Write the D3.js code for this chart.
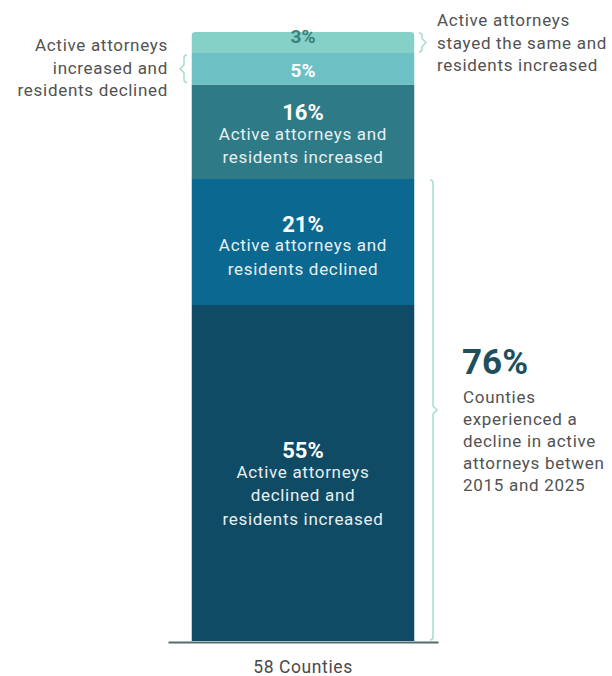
<!DOCTYPE html>
<html>
<head>
<meta charset="utf-8">
<script src="https://cdn.jsdelivr.net/npm/d3@7"></script>
<style>
  html, body { margin: 0; padding: 0; background: #ffffff; }
  svg { display: block; font-family: Roboto, "Open Sans", sans-serif; }
</style>
</head>
<body>
<svg id="chart" width="612" height="676"></svg>
<script>
// Counties by change in active attorneys and residents, 2015–2025 (58 counties total)
const barCategory = ["58 Counties"];
const segmentKeys = ["attDownResUp", "bothDown", "bothUp", "attUpResDown", "attSameResUp"];
const countyCounts = [32, 12, 9, 3, 2];
const segmentLines = [
  ["Active attorneys", "declined and", "residents increased"],
  ["Active attorneys and", "residents declined"],
  ["Active attorneys and", "residents increased"],
  [],
  []
];
const leftNote = ["Active attorneys", "increased and", "residents declined"];
const rightNote = ["Active attorneys", "stayed the same and", "residents increased"];
const declineNote = ["Counties", "experienced a", "decline in active", "attorneys betwen", "2015 and 2025"];
const declineKeys = ["attDownResUp", "bothDown"];

const total = d3.sum(countyCounts);
const pct = v => Math.round(v / total * 100) + "%";

const svg = d3.select("#chart");

const x = d3.scaleBand().domain(barCategory).range([168, 438]).paddingInner(0).paddingOuter(0.1054);
const y = d3.scaleLinear().domain([0, total]).range([641, 32]);
const color = d3.scaleOrdinal().domain(segmentKeys)
  .range(["#0f4b64", "#0b6890", "#2e7b87", "#6dc1c4", "#85d1c7"]);

// stacked segments
const stacked = [];
let acc = 0;
segmentKeys.forEach((k, i) => {
  stacked.push({ key: k, value: countyCounts[i], y0: acc, y1: acc + countyCounts[i], lines: segmentLines[i] });
  acc += countyCounts[i];
});

const bx = x(barCategory[0]);
const bw = x.bandwidth();

const clipId = "barClip";
svg.append("defs").append("clipPath").attr("id", clipId)
  .append("rect").attr("x", bx).attr("y", y(total)).attr("width", bw)
  .attr("height", y(0) - y(total) + 10).attr("rx", 4);

svg.append("g").attr("clip-path", `url(#${clipId})`)
  .selectAll("rect").data(stacked).join("rect")
  .attr("x", bx).attr("width", bw)
  .attr("y", d => y(d.y1))
  .attr("height", d => y(d.y0) - y(d.y1))
  .attr("fill", d => color(d.key));

const bodySize = 17;
const bodySpacing = "0.7px";

// segment labels
const cx = bx + bw / 2;
stacked.forEach(d => {
  const top = y(d.y1), bot = y(d.y0);
  const g = svg.append("g");
  if (d.lines.length === 0) {
    const small = d.key === "attSameResUp";
    g.append("text")
      .attr("x", cx).attr("y", small ? top + 4 : (top + bot) / 2 + 2)
      .attr("text-anchor", "middle").attr("dominant-baseline", "central")
      .attr("font-size", 19).attr("font-weight", 700)
      .attr("fill", small ? "#3c7f7c" : "#ffffff")
      .text(pct(d.value));
  } else {
    const gap1 = 21, lh = 23.5;
    const blockH = gap1 + (d.lines.length - 1) * lh;
    const mid = top + 0.535 * (bot - top);
    const start = mid - blockH / 2;
    g.append("text")
      .attr("x", cx).attr("y", start)
      .attr("text-anchor", "middle").attr("dominant-baseline", "central")
      .attr("font-size", 22).attr("font-weight", 700).attr("fill", "#ffffff")
      .text(pct(d.value));
    d.lines.forEach((ln, j) => {
      g.append("text")
        .attr("x", cx).attr("y", start + gap1 + j * lh)
        .attr("text-anchor", "middle").attr("dominant-baseline", "central")
        .attr("font-size", bodySize).attr("letter-spacing", bodySpacing)
        .attr("fill", "#e6eff2")
        .text(ln);
    });
  }
});

// axis along the base
const axis = svg.append("g").attr("transform", `translate(0,${y(0) + 1})`)
  .call(d3.axisBottom(x).tickSize(0).tickPadding(19));
axis.select(".domain").attr("stroke", "#4f6e6e").attr("stroke-width", 2);
axis.selectAll("text").attr("font-size", 17.5).attr("letter-spacing", "0.6px")
  .attr("fill", "#4a4a4a").attr("font-family", "Roboto, sans-serif");

// curly brace helper: vertical brace at x0 spanning ya..yb, pointing dir (+1 right, -1 left)
function brace(x0, ya, yb, dir, tip) {
  const m = (ya + yb) / 2;
  const c = 3;
  return `M${x0 - dir * c},${ya} Q${x0},${ya} ${x0},${ya + c}` +
    ` L${x0},${m - tip} L${x0 + dir * tip},${m} L${x0},${m + tip}` +
    ` L${x0},${yb - c} Q${x0},${yb} ${x0 - dir * c},${yb}`;
}

const braceColor = "#a6dccf";
const segBy = k => stacked.find(s => s.key === k);

// left brace on the 5% segment
const sL = segBy("attUpResDown");
svg.append("path").attr("d", brace(184, y(sL.y1) + 2, y(sL.y0) - 2, -1, 4))
  .attr("fill", "none").attr("stroke", braceColor).attr("stroke-width", 1.5);

// right brace on the 3% segment
const sR = segBy("attSameResUp");
svg.append("path").attr("d", brace(422, y(sR.y1) + 1, y(sR.y0) - 1, 1, 4))
  .attr("fill", "none").attr("stroke", braceColor).attr("stroke-width", 1.5);

// tall brace over the declining segments
const declineTotal = d3.sum(declineKeys, k => segBy(k).value);
const dTop = d3.max(declineKeys, k => segBy(k).y1);
svg.append("path").attr("d", brace(433, y(dTop) + 1, y(0) - 1, 1, 4))
  .attr("fill", "none").attr("stroke", braceColor).attr("stroke-width", 1.5);

// notes
const noteColor = "#525252";
leftNote.forEach((t, i) => {
  svg.append("text").attr("x", 168).attr("y", 45 + i * 22.5)
    .attr("text-anchor", "end").attr("dominant-baseline", "central")
    .attr("font-size", bodySize).attr("letter-spacing", bodySpacing)
    .attr("fill", noteColor).text(t);
});
rightNote.forEach((t, i) => {
  svg.append("text").attr("x", 437).attr("y", 20 + i * 22.5)
    .attr("dominant-baseline", "central")
    .attr("font-size", bodySize).attr("letter-spacing", bodySpacing)
    .attr("fill", noteColor).text(t);
});

svg.append("text").attr("x", 462).attr("y", 362)
  .attr("dominant-baseline", "central")
  .attr("font-size", 35).attr("font-weight", 700).attr("fill", "#1e4f5c")
  .text(pct(declineTotal));
declineNote.forEach((t, i) => {
  svg.append("text").attr("x", 463).attr("y", 397 + i * 22)
    .attr("dominant-baseline", "central")
    .attr("font-size", bodySize).attr("letter-spacing", bodySpacing)
    .attr("fill", noteColor).text(t);
});
</script>
</body>
</html>
